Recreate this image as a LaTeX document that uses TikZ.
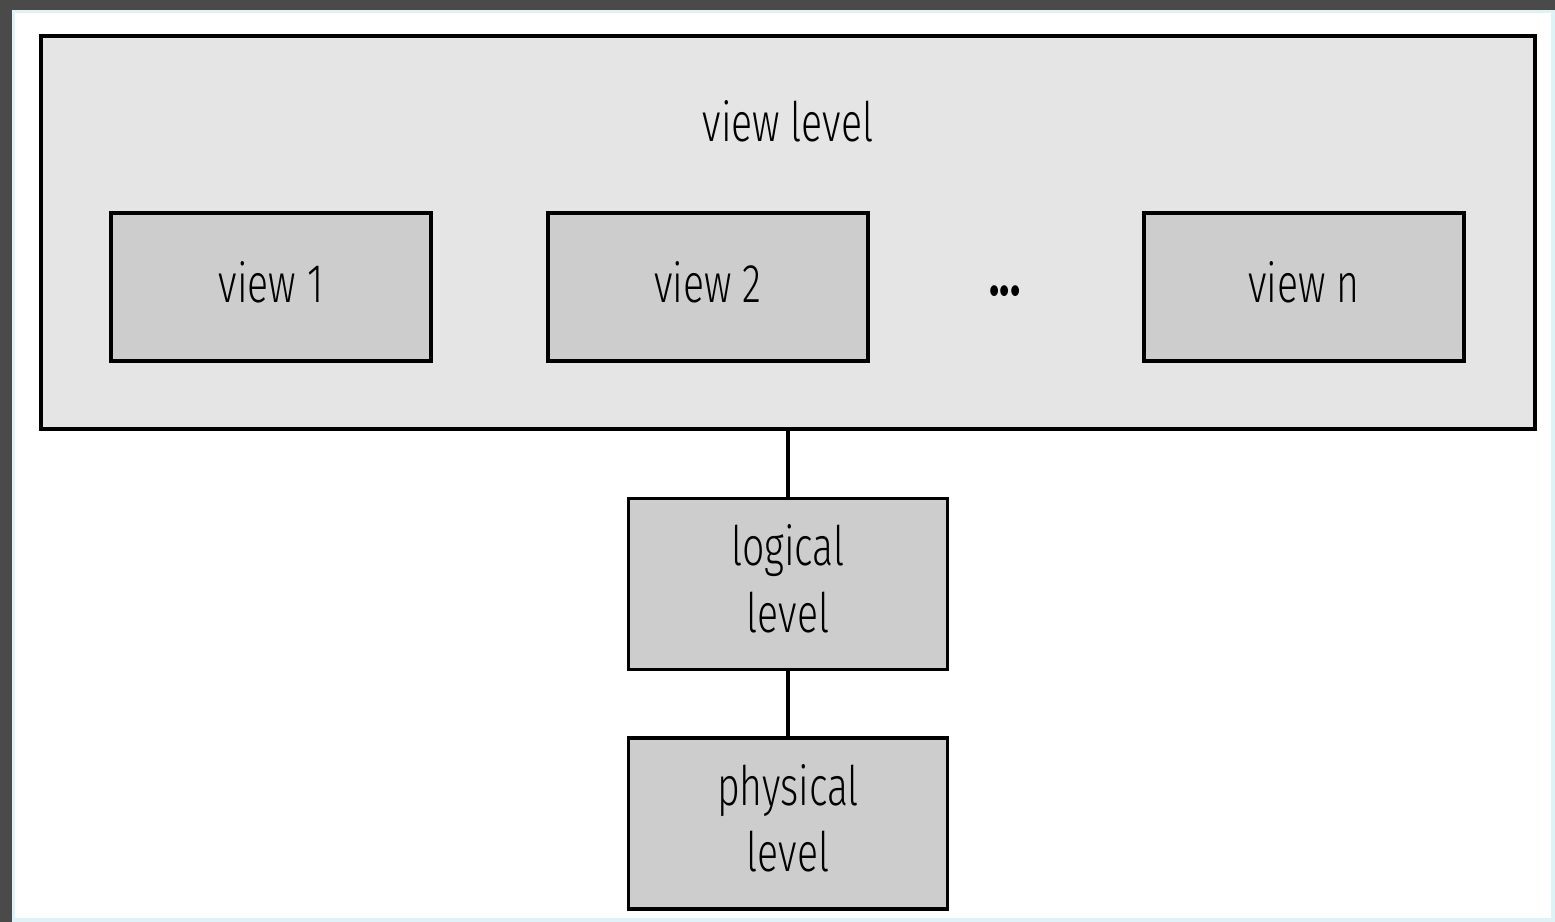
\documentclass[tikz,border=0pt]{standalone}
\usepackage{fontspec}
\setmainfont[FakeStretch=0.72]{Fira Sans Light}
\newfontfamily\dotfont[FakeStretch=0.72]{Fira Sans Bold}
\definecolor{panelgray}{HTML}{E6E5E6}
\definecolor{boxgray}{HTML}{CDCDCD}
\definecolor{slidedark}{HTML}{4A4A4A}
\definecolor{edgecyan}{HTML}{DDF3F6}

\begin{document}
\begin{tikzpicture}[x=0.02cm,y=-0.02cm,
  lvl/.style={draw=black,line width=2pt,fill=boxgray,align=center,
    font=\fontsize{31}{38}\selectfont,inner sep=0pt,text depth=0.22cm},
  viewbox/.style={lvl,minimum width=6.4cm,minimum height=2.96cm},
  levelbox/.style={lvl,minimum width=6.38cm,minimum height=3.42cm}]
\def\lw{2pt}
% slide frame
\fill[slidedark] (0,0) rectangle (1555,922);
\fill[edgecyan] (12,10) rectangle (1555,922);
\fill[white] (15,13) rectangle (1551,918);
\useasboundingbox (0,0) rectangle (1555,922);

% view level panel
\node[draw=black,line width=\lw,fill=panelgray,minimum width=29.88cm,
  minimum height=7.86cm,inner sep=0pt] (viewlevel) at (788,232.5) {};
\node[font=\fontsize{31}{38}\selectfont] (vltitle) at (788,121) {view level};

\node[viewbox] (view1) at (271,287) {view 1};
\node[viewbox] (view2) at (708,287) {view 2};
\node[font=\fontsize{34}{38}\dotfont] (dots) at (1005,291) {...};
\node[viewbox] (viewn) at (1304,287) {view n};

% lower levels
\node[levelbox] (logical) at (788,584) {logical\\level};
\node[levelbox] (physical) at (788,823.5) {physical\\level};

\draw[line width=\lw] (viewlevel.south) -- (logical.north);
\draw[line width=\lw] (logical.south) -- (physical.north);
\end{tikzpicture}
\end{document}
